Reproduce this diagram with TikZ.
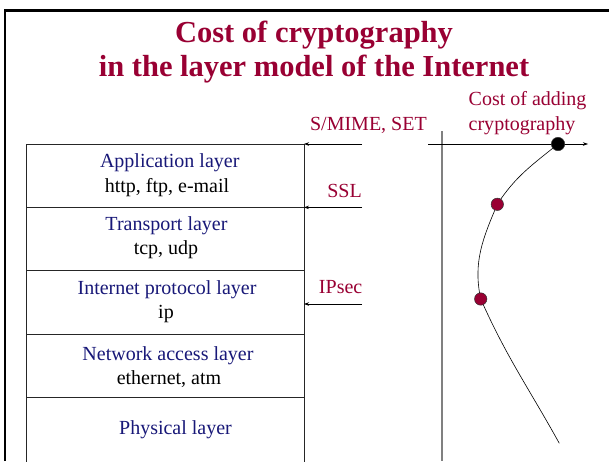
\documentclass[tikz,border=0pt]{standalone}
\usepackage{fontspec}
\setmainfont{Liberation Serif}
\usetikzlibrary{arrows.meta}
\definecolor{maroon}{RGB}{153,0,51}
\definecolor{navyt}{RGB}{24,24,120}
\begin{document}
\begin{tikzpicture}[x=1pt,y=1pt,
 txt/.style={font=\fontsize{20}{24}\selectfont, inner sep=0pt, anchor=base},
 lay/.style={txt, text=navyt},
 prot/.style={txt, text=black},
 lbl/.style={txt, text=maroon, anchor=base east},
 ttl/.style={font=\fontsize{30.5}{35}\selectfont\bfseries, text=maroon, inner sep=0pt, anchor=base},
 layerbox/.style={draw=black!85, line width=0.9pt, minimum width=278pt, minimum height=63.4pt, inner sep=0pt, outer sep=0pt, anchor=north west},
 inarrow/.style={-{Stealth[length=5pt,width=3.5pt]}, line width=0.6pt},
 dot/.style={circle, draw=black!80, fill=maroon, minimum size=12.4pt, inner sep=0pt, line width=0.5pt}]
\useasboundingbox (0,0) rectangle (609,-461);
\fill[white] (0,0) rectangle (609,-461);
% frame
\draw[line width=2.5pt] (5,-461) -- (5,-10.5) -- (609,-10.5);
% title
\node[ttl] (t1) at (314,-42.3) {Cost of cryptography};
\node[ttl] (t2) at (314,-76.7) {in the layer model of the Internet};
% layer stack
\node[layerbox] (L1) at (26,-144) {};
\node[layerbox] (L2) at (26,-207.4) {};
\node[layerbox] (L3) at (26,-270.8) {};
\node[layerbox] (L4) at (26,-334.2) {};
\node[layerbox, minimum height=75pt] (L5) at (26,-397.6) {};
\node[lay] (n1) at (169.7,-167.3) {Application layer};
\node[prot] (p1) at (167,-192.7) {http, ftp, e-mail};
\node[lay] (n2) at (166.5,-230.7) {Transport layer};
\node[prot] (p2) at (166,-254.3) {tcp, udp};
\node[lay] (n3) at (167,-294) {Internet protocol layer};
\node[prot] (p3) at (166,-318.7) {ip};
\node[lay] (n4) at (168,-360) {Network access layer};
\node[prot] (p4) at (169,-384.3) {ethernet, atm};
\node[lay] (n5) at (175.5,-434) {Physical layer};
% labels and arrows
\node[lbl] (smime) at (427,-130) {S/MIME, SET};
\node[lbl] (ssl) at (362,-197.3) {SSL};
\node[lbl] (ipsec) at (362.5,-293.3) {IPsec};
\coordinate (a1) at (362,-144);
\coordinate (a2) at (362,-207.4);
\coordinate (a3) at (362,-304);
\draw[inarrow] (a1) -- (L1.north east);
\draw[inarrow] (a2) -- (L1.south east);
\draw[inarrow] (a3) -- (a3 -| L3.east);
% cost axis
\node[txt, text=maroon, anchor=base west] (c1) at (468.5,-105) {Cost of adding};
\node[txt, text=maroon, anchor=base west] (c2) at (468.5,-130) {cryptography};
\coordinate (vx0) at (442,-131);
\coordinate (vx1) at (442,-461);
\draw[black!50, line width=1.8pt] (vx0) -- (vx1);
\coordinate (ax0) at (428,-144);
\coordinate (ax1) at (588,-144);
\draw[inarrow] (ax0) -- (ax1);
% cost curve
\coordinate (k0) at (558,-144);
\coordinate (r1c) at (497.3,-204.3);
\coordinate (r2c) at (480.7,-299);
\coordinate (cend) at (559.3,-443.3);
\draw[line width=0.6pt] (k0) to[out=-141,in=57] (r1c) to[out=-113,in=102] (r2c) to[out=-66,in=119] (cend);
\node[dot, fill=black, minimum size=13.4pt] (k) at (k0) {};
\node[dot] (r1) at (r1c) {};
\node[dot] (r2) at (r2c) {};
\end{tikzpicture}
\end{document}
